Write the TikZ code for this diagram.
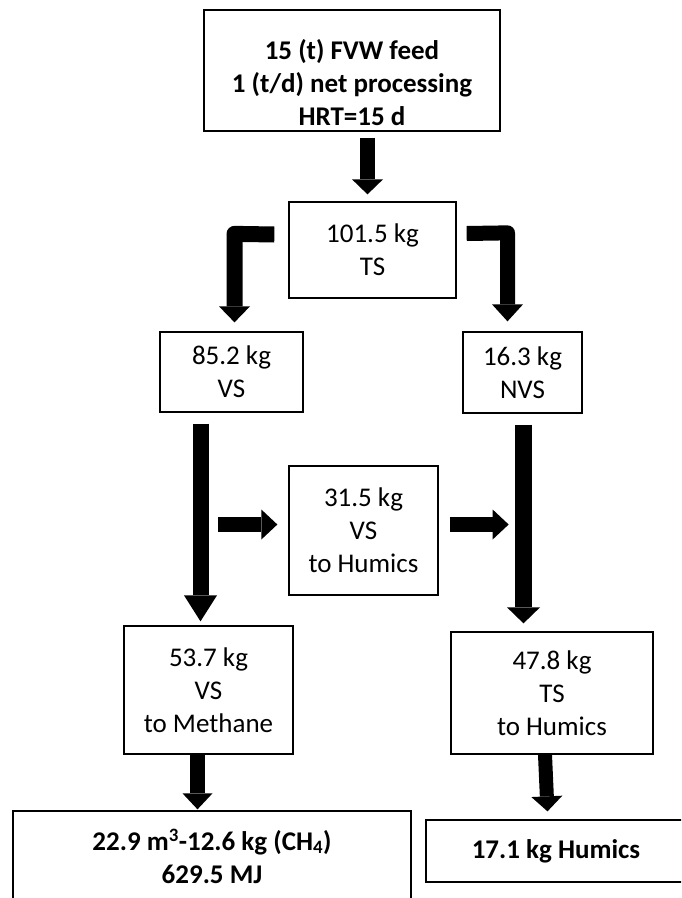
\documentclass[tikz,border=0pt]{standalone}
\usepackage{fontspec}
\setmainfont{Carlito}
\usetikzlibrary{arrows.meta,calc}
\begin{document}
\begin{tikzpicture}[x=1pt,y=-1pt,
  txt/.style={inner sep=0pt,align=center,font=\fontsize{27}{33}\selectfont},
  btxt/.style={txt,font=\fontsize{27}{33}\selectfont\bfseries},
  box/.style={txt,draw=black,line width=1.3pt},
  fat/.style n args={3}{draw=black,line width=#1,line join=round,
    -{Triangle[width=#2,length=#3,line width=0pt]}}
]
\useasboundingbox (0,0) rectangle (681,898);
\clip (0,0) rectangle (681,898);

% boxes
\node[box,minimum width=296pt,minimum height=121pt] (top) at (352,70.5) {};
\node[btxt] (toptext) at (352,83) {15 (t) FVW feed\\1 (t/d) net processing\\HRT=15 d};
\node[box,minimum width=167pt,minimum height=96pt] (ts) at (372.5,250) {101.5 kg\\TS};
\node[box,minimum width=143pt,minimum height=80pt] (vs) at (231.5,372) {85.2 kg\\VS};
\node[box,minimum width=119pt,minimum height=81pt] (nvs) at (522.5,372.5) {16.3 kg\\NVS};
\node[box,minimum width=149pt,minimum height=129pt] (mid) at (363.5,530.5) {31.5 kg\\VS\\to Humics};
\node[box,minimum width=169pt,minimum height=128pt] (meth) at (208.5,690) {53.7 kg\\VS\\to Methane};
\node[box,minimum width=202pt,minimum height=122pt] (hum) at (552,693) {47.8 kg\\TS\\to Humics};
\node[box,minimum width=398pt,minimum height=94pt] (ch4) at (212,858) {};
\node[btxt] (ch4text) at (212,856) {22.9 m\textsuperscript{3}-12.6 kg (CH\textsubscript{4})\\629.5 MJ};
\node[box,minimum width=264pt,minimum height=62pt] (h17) at (558,851) {};
\node[btxt] (h17text) at (556,851) {17.1 kg Humics};

% arrows
\draw[fat={15pt}{31pt}{15pt}] ($(top.south)+(15.5,6)$) -- ($(ts.north)+(-5,-7)$);
\coordinate (lcorner) at ($(vs.north)+(3,-97.5)$);
\draw[fat={16pt}{31pt}{16pt}] ($(ts.west)+(-14,-15.5)$) -- (lcorner) -- ($(vs.north)+(3,-9)$);
\coordinate (rcorner) at ($(nvs.north)+(-15,-98.5)$);
\draw[fat={15pt}{31pt}{17pt}] ($(ts.east)+(10,-16.5)$) -- (rcorner) -- ($(nvs.north)+(-15,-10)$);
\draw[fat={16pt}{33pt}{26pt}] ($(vs.south)+(-31,11)$) -- ($(meth.north)+(-8,-4)$);
\draw[fat={17pt}{33pt}{16pt}] ($(nvs.south)+(1,11)$) -- ($(hum.north)+(-28.5,-8)$);
\draw[fat={15pt}{30pt}{16pt}] ($(mid.west)+(-70,-6)$) -- ($(mid.west)+(-11,-6)$);
\draw[fat={15pt}{30pt}{16pt}] ($(mid.east)+(11,-6)$) -- ($(mid.east)+(70,-6)$);
\draw[fat={15pt}{30pt}{16pt}] ($(meth.south)+(-11,0)$) -- ($(ch4.north)+(-14.5,-1)$);
\draw[fat={14pt}{31pt}{15pt}] ($(hum.south)+(-7,0)$) -- ($(h17.north)+(-10.5,-8)$);
\end{tikzpicture}
\end{document}
